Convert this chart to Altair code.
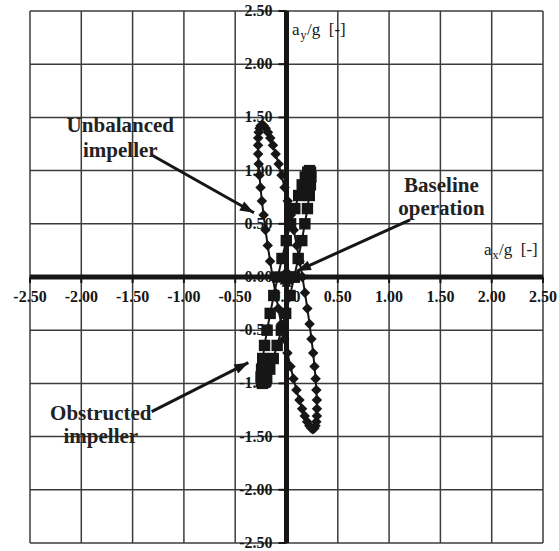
import altair as alt
import pandas as pd

FONT = "Liberation Serif"
INK = "#161616"
GRID = "#3c3c3c"

# Grid / tick positions and their labels
ticks = [-2.5, -2.0, -1.5, -1.0, -0.5, 0.0, 0.5, 1.0, 1.5, 2.0, 2.5]
tick_labels = ["-2.50", "-2.00", "-1.50", "-1.00", "-0.50", "0.00",
               "0.50", "1.00", "1.50", "2.00", "2.50"]

# Unbalanced impeller orbit (diamonds), ax/g and ay/g
unb_x = [0.155, 0.128, 0.100, 0.071, 0.042, 0.012, -0.019, -0.048, -0.077, -0.106,
         -0.132, -0.158, -0.181, -0.203, -0.222, -0.238,
         -0.252, -0.263, -0.271, -0.276, -0.277, -0.276, -0.271, -0.264, -0.253,
         -0.240, -0.223, -0.205, -0.183, -0.160, -0.135,
         -0.108, -0.080, -0.051, -0.022, 0.009, 0.039, 0.068, 0.097, 0.126,
         0.152, 0.178, 0.201, 0.223, 0.242, 0.258,
         0.272, 0.283, 0.291, 0.296, 0.297, 0.296, 0.291, 0.284, 0.273,
         0.260, 0.243, 0.225, 0.203, 0.180, 0.155]
unb_y = [0.000, 0.149, 0.297, 0.442, 0.582, 0.715, 0.841, 0.957, 1.063, 1.157,
         1.238, 1.306, 1.360, 1.399, 1.422, 1.430,
         1.422, 1.399, 1.360, 1.306, 1.238, 1.157, 1.063, 0.957, 0.841,
         0.715, 0.582, 0.442, 0.297, 0.149, 0.000,
         -0.149, -0.297, -0.442, -0.582, -0.715, -0.841, -0.957, -1.063, -1.157,
         -1.238, -1.306, -1.360, -1.399, -1.422, -1.430,
         -1.422, -1.399, -1.360, -1.306, -1.238, -1.157, -1.063, -0.957, -0.841,
         -0.715, -0.582, -0.442, -0.297, -0.149, 0.000]

# Obstructed impeller orbit (squares)
obs_x = [0.075, 0.114, 0.149, 0.179, 0.204, 0.222, 0.233, 0.238, 0.234, 0.224,
         0.207, 0.183, 0.153, 0.119, 0.081, 0.040, -0.002, -0.044, -0.085,
         -0.124, -0.159, -0.189, -0.214, -0.232, -0.243, -0.248, -0.244, -0.234,
         -0.217, -0.193, -0.163, -0.129, -0.091, -0.050, -0.008, 0.034, 0.075]
obs_y = [0.000, 0.174, 0.342, 0.500, 0.643, 0.766, 0.866, 0.940, 0.985, 1.000,
         0.985, 0.940, 0.866, 0.766, 0.643, 0.500, 0.342, 0.174, 0.000,
         -0.174, -0.342, -0.500, -0.643, -0.766, -0.866, -0.940, -0.985, -1.000,
         -0.985, -0.940, -0.866, -0.766, -0.643, -0.500, -0.342, -0.174, 0.000]

# Baseline operation (small orbit around the origin)
base_x = [0.040, 0.030, 0.010, -0.010, -0.030, -0.040, -0.030, -0.010, 0.010, 0.030, 0.040]
base_y = [0.000, 0.040, 0.060, 0.060, 0.040, 0.000, -0.040, -0.060, -0.060, -0.040, 0.000]

# Callout text lines (centre x, baseline y)
note_text = ["Unbalanced", "impeller", "Baseline", "operation", "Obstructed", "impeller"]
note_x = [-1.62, -1.62, 1.51, 1.51, -1.81, -1.81]
note_y = [1.363, 1.128, 0.800, 0.583, -1.344, -1.560]

# Callout arrows: start -> tip, head direction (deg clockwise from up)
arr_x0 = [-1.314, 1.204, -1.314]
arr_y0 = [1.147, 0.536, -1.266]
arr_x1 = [-0.317, 0.102, -0.372]
arr_y1 = [0.604, 0.056, -0.805]
arr_ang = [118.8, 246.0, 62.7]

xs = alt.Scale(domain=[-2.5, 2.5], nice=False, zero=False)
ys = alt.Scale(domain=[-2.5, 2.5], nice=False, zero=False)


def X(f):
    return alt.X(f, scale=xs, axis=None)


def Y(f):
    return alt.Y(f, scale=ys, axis=None)


tick_df = pd.DataFrame({"v": ticks, "lab": tick_labels, "zero": [0.0] * len(ticks)})
zero_df = pd.DataFrame({"v": [0.0]})

unb_df = pd.DataFrame({"x": unb_x, "y": unb_y, "i": range(len(unb_x))})
obs_df = pd.DataFrame({"x": obs_x, "y": obs_y, "i": range(len(obs_x))})
base_df = pd.DataFrame({"x": base_x, "y": base_y, "i": range(len(base_x))})
note_df = pd.DataFrame({"x": note_x, "y": note_y, "t": note_text})
arr_df = pd.DataFrame({"x": arr_x0, "y": arr_y0, "x2": arr_x1, "y2": arr_y1, "a": arr_ang})

grid_v = alt.Chart(tick_df).mark_rule(color=GRID, strokeWidth=1.5).encode(x=X("v:Q"))
grid_h = alt.Chart(tick_df).mark_rule(color=GRID, strokeWidth=1.5).encode(y=Y("v:Q"))

axis_v = alt.Chart(zero_df).mark_rule(color=INK, strokeWidth=5).encode(x=X("v:Q"))
axis_h = alt.Chart(zero_df).mark_rule(color=INK, strokeWidth=5).encode(y=Y("v:Q"))

tick_y = alt.Chart(tick_df).mark_point(
    shape="M-1,0L0,0", size=256, filled=False, color=INK, strokeWidth=2, opacity=1
).encode(x=X("zero:Q"), y=Y("v:Q"))
tick_x = alt.Chart(tick_df).mark_point(
    shape="M0,0L0,1", size=144, filled=False, color=INK, strokeWidth=2, opacity=1
).encode(x=X("v:Q"), y=Y("zero:Q"))

lab_y = alt.Chart(tick_df).mark_text(
    align="right", baseline="middle", dx=-14, font=FONT, fontSize=16,
    fontWeight="bold", color=INK
).encode(x=X("zero:Q"), y=Y("v:Q"), text="lab:N")
lab_x = alt.Chart(tick_df).mark_text(
    align="center", baseline="middle", dy=20, font=FONT, fontSize=16,
    fontWeight="bold", color=INK
).encode(x=X("v:Q"), y=Y("zero:Q"), text="lab:N")


def orbit(df, shape, size):
    line = alt.Chart(df).mark_line(color=INK, strokeWidth=2).encode(
        x=X("x:Q"), y=Y("y:Q"), order=alt.Order("i:Q"))
    pts = alt.Chart(df).mark_point(
        shape=shape, size=size, filled=True, color=INK, opacity=1
    ).encode(x=X("x:Q"), y=Y("y:Q"))
    return line + pts


unb = orbit(unb_df, "diamond", 110)
obs = orbit(obs_df, "square", 130)
base = orbit(base_df, "triangle-up", 60)

notes = alt.Chart(note_df).mark_text(
    align="center", baseline="alphabetic", font=FONT, fontSize=21,
    fontWeight="bold", color="#222222"
).encode(x=X("x:Q"), y=Y("y:Q"), text="t:N")

shafts = alt.Chart(arr_df).mark_rule(color=INK, strokeWidth=3).encode(
    x=X("x:Q"), y=Y("y:Q"), x2="x2:Q", y2="y2:Q")
heads = alt.Chart(arr_df).mark_point(
    shape="M0,0L0.65,1.8L-0.65,1.8Z", size=240, filled=True, color=INK, opacity=1
).encode(x=X("x2:Q"), y=Y("y2:Q"), angle=alt.Angle("a:Q", scale=None))

# Axis titles with subscripts
ttl_df = pd.DataFrame({"x": [0.054, 1.925], "y": [2.274, 0.207]})
ttl_a = alt.Chart(ttl_df).mark_text(
    align="left", baseline="alphabetic", font=FONT, fontSize=17, color=INK
).encode(x=X("x:Q"), y=Y("y:Q"), text=alt.value("a"))
ttl_sub_y = alt.Chart(ttl_df.iloc[[0]]).mark_text(
    align="left", baseline="alphabetic", font=FONT, fontSize=12, color=INK, dx=8.5, dy=4
).encode(x=X("x:Q"), y=Y("y:Q"), text=alt.value("y"))
ttl_sub_x = alt.Chart(ttl_df.iloc[[1]]).mark_text(
    align="left", baseline="alphabetic", font=FONT, fontSize=12, color=INK, dx=8.5, dy=4
).encode(x=X("x:Q"), y=Y("y:Q"), text=alt.value("x"))
ttl_rest = alt.Chart(ttl_df).mark_text(
    align="left", baseline="alphabetic", font=FONT, fontSize=17, color=INK, dx=15
).encode(x=X("x:Q"), y=Y("y:Q"), text=alt.value("/g\u00a0\u00a0[-]"))

chart = alt.layer(
    grid_v, grid_h, axis_v, axis_h, tick_y, tick_x, lab_y, lab_x,
    obs, unb, base, shafts, heads, notes,
    ttl_a, ttl_sub_y, ttl_sub_x, ttl_rest,
).properties(
    width=513, height=532,
    padding={"left": 30, "top": 11, "right": 16, "bottom": 8},
    autosize=alt.AutoSizeParams(type="none"),
    background="white",
).configure_view(stroke=None)

chart.save("out.html", embed_options={"renderer": "svg", "actions": False})
